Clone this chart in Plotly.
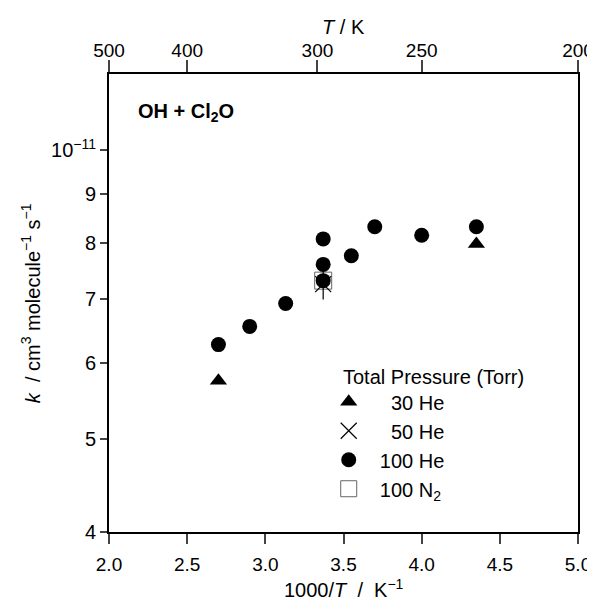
import plotly.graph_objects as go

# 1000/T (K^-1) and k (cm3 molecule-1 s-1)
x_30he = [2.70, 4.35]
k_30he = [5.75e-12, 7.98e-12]

x_50he = [3.37]
k_50he = [7.25e-12]

x_100he = [2.70, 2.90, 3.13, 3.37, 3.37, 3.37, 3.55, 3.70, 4.00, 4.35]
k_100he = [6.27e-12, 6.55e-12, 6.92e-12, 7.31e-12, 7.60e-12, 8.08e-12, 7.76e-12, 8.32e-12, 8.15e-12, 8.32e-12]

x_100n2 = [3.37]
k_100n2 = [7.31e-12]

# axis ticks
x_ticks = [2.0, 2.5, 3.0, 3.5, 4.0, 4.5, 5.0]
T_ticks = [500, 400, 300, 250, 200]
k_ticks = [4e-12, 5e-12, 6e-12, 7e-12, 8e-12, 9e-12, 1e-11]
k_labels = ['4', '5', '6', '7', '8', '9', '10<sup>\u221211</sup>']

fnt = 'Liberation Sans, Arial, sans-serif'
nb = '\u00a0'

fig = go.Figure()

fig.add_trace(go.Scatter(
    x=x_100n2, y=k_100n2, mode='markers', name=nb * 2 + '100 N<sub>2</sub>',
    legendgroup='d', legendrank=4,
    marker=dict(symbol='square-open', size=17, color='#666666', line=dict(width=1))))

fig.add_trace(go.Scatter(
    x=x_100he, y=k_100he, mode='markers', name=nb * 2 + '100 He',
    legendgroup='c', legendrank=3,
    marker=dict(symbol='circle', size=15, color='black')))

fig.add_trace(go.Scatter(
    x=x_30he, y=k_30he, mode='markers', name=nb * 4 + '30 He',
    legendgroup='a', legendrank=1,
    marker=dict(symbol='triangle-up', size=15, color='black')))

# six-armed asterisk = x + vertical line
fig.add_trace(go.Scatter(
    x=x_50he, y=k_50he, mode='markers', name=nb * 4 + '50 He',
    legendgroup='b', legendrank=2,
    marker=dict(symbol='x-thin-open', size=16, color='black', line=dict(width=1.2))))
fig.add_trace(go.Scatter(
    x=x_50he, y=k_50he, mode='markers', showlegend=False, legendgroup='b',
    marker=dict(symbol='line-ns-open', size=22, color='black', line=dict(width=1.2))))

# invisible trace on the top T axis so it gets drawn
fig.add_trace(go.Scatter(x=x_100he, y=k_100he, xaxis='x2', mode='markers',
                         marker=dict(opacity=0), showlegend=False, hoverinfo='skip'))

fig.add_annotation(text='<b>OH + Cl<sub>2</sub>O</b>', xref='paper', yref='paper',
                   x=0.058, y=0.917, xanchor='left', yanchor='middle', showarrow=False,
                   font=dict(family=fnt, size=20, color='black'))
fig.add_annotation(text='Total Pressure (Torr)', xref='paper', yref='paper',
                   x=0.495, y=0.338, xanchor='left', yanchor='middle', showarrow=False,
                   font=dict(family=fnt, size=20, color='black'))
# axis titles as annotations for exact placement
fig.add_annotation(text='<i>T</i> / K', xref='paper', yref='paper',
                   x=0.5, y=1.102, xanchor='center', yanchor='middle', showarrow=False,
                   font=dict(family=fnt, size=20, color='black'))
fig.add_annotation(text='1000/<i>T</i>  /  K<sup>\u22121</sup>', xref='paper', yref='paper',
                   x=0.5, y=-0.124, xanchor='center', yanchor='middle', showarrow=False,
                   font=dict(family=fnt, size=20, color='black'))
fig.add_annotation(text='<i>k</i>  / cm<sup>3</sup> molecule<sup>\u22121</sup> s<sup>\u22121</sup>',
                   xref='paper', yref='paper', x=-0.168, y=0.5, textangle=-90,
                   xanchor='center', yanchor='middle', showarrow=False,
                   font=dict(family=fnt, size=20, color='black'))

# page body has an 8px margin, so the figure is offset by 8px
fig.update_layout(
    width=587, height=593,
    margin=dict(l=101, r=17, t=66, b=69),
    paper_bgcolor='white', plot_bgcolor='white',
    font=dict(family=fnt, size=20, color='black'),
    legend=dict(x=0.4685, y=0.327, xanchor='left', yanchor='top', bgcolor='rgba(0,0,0,0)',
                tracegroupgap=0, font=dict(size=20), itemsizing='trace'),
    xaxis=dict(range=[2, 5], tickvals=x_ticks, tickformat='.1f', ticks='outside', ticklen=10,
               tickwidth=2, showline=True, linewidth=2, linecolor='black', showgrid=False,
               zeroline=False, automargin=False, tickfont=dict(size=19), ticklabelstandoff=4,
               ticklabeloverflow='allow'),
    xaxis2=dict(range=[2, 5], overlaying='x', side='top', anchor='y',
                tickvals=[1000 / t for t in T_ticks], ticktext=[str(t) for t in T_ticks],
                ticks='outside', ticklen=12, tickwidth=2, showline=True, linewidth=2,
                linecolor='black', showgrid=False, zeroline=False, automargin=False,
                tickfont=dict(size=19), ticklabelstandoff=-5, ticklabeloverflow='allow'),
    yaxis=dict(type='log', range=[-11.39794, -10.92082], tickvals=k_ticks, ticktext=k_labels,
               ticks='outside', ticklen=7, tickwidth=2, showline=True, linewidth=2,
               linecolor='black', mirror=True, showgrid=False, zeroline=False, automargin=False,
               tickfont=dict(size=20)),
)

fig.write_html("out.html")
